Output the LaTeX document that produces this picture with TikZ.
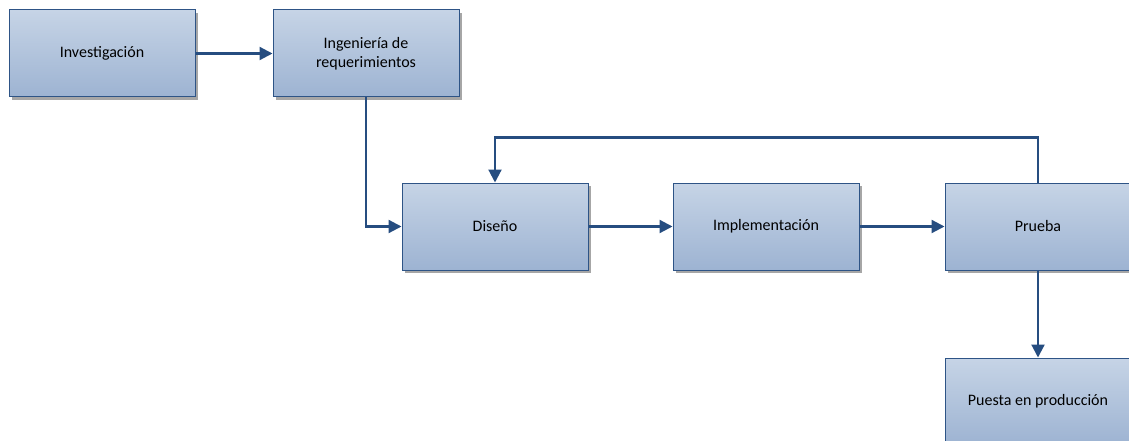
\documentclass[tikz,border=0pt]{standalone}
\usepackage{fontspec}
\setmainfont{Carlito}
\usetikzlibrary{arrows.meta,shadows}
\definecolor{boxline}{HTML}{2E5486}
\definecolor{boxtop}{HTML}{C6D4E6}
\definecolor{boxbot}{HTML}{9DB3D2}
\definecolor{flow}{HTML}{264D80}
\begin{document}
\begin{tikzpicture}[x=1pt,y=-1pt,
  stage/.style={draw=boxline, line width=1pt, top color=boxtop, bottom color=boxbot,
    minimum width=186pt, minimum height=87pt, inner sep=0pt, align=center,
    font=\fontsize{16}{19.5}\selectfont, text=black,
    drop shadow={shadow xshift=3pt, shadow yshift=-3pt, fill=black!35, opacity=1}},
  flowline/.style={draw=flow, line width=2.2pt, -{Triangle[length=13pt,width=13pt]}}]
\useasboundingbox (0,0) rectangle (1129,441);
\clip (0,0) rectangle (1129,441);
% process stages (centres in pixel-like units)
\node[stage] (inv)  at (102,53.5)  {Investigación};
\node[stage] (req)  at (366,53.5)  {Ingeniería de\\requerimientos};
\node[stage] (dis)  at (495,226.5) {Diseño};
\node[stage] (imp)  at (766,226.5) {Implementación};
\node[stage] (pru)  at (1038,226.5){Prueba};
\node[stage] (pue)  at (1038,401.5){Puesta en producción};
% connectors
\draw[flowline] (inv.east) -- (req.west);
\draw[flowline] (req.south) |- (dis.west);
\draw[flowline] (dis.east) -- (imp.west);
\draw[flowline] (imp.east) -- (pru.west);
\draw[flowline] (pru.north) -- ++(0,-45) -| (dis.north);
\draw[flowline] (pru.south) -- (pue.north);
\end{tikzpicture}
\end{document}
